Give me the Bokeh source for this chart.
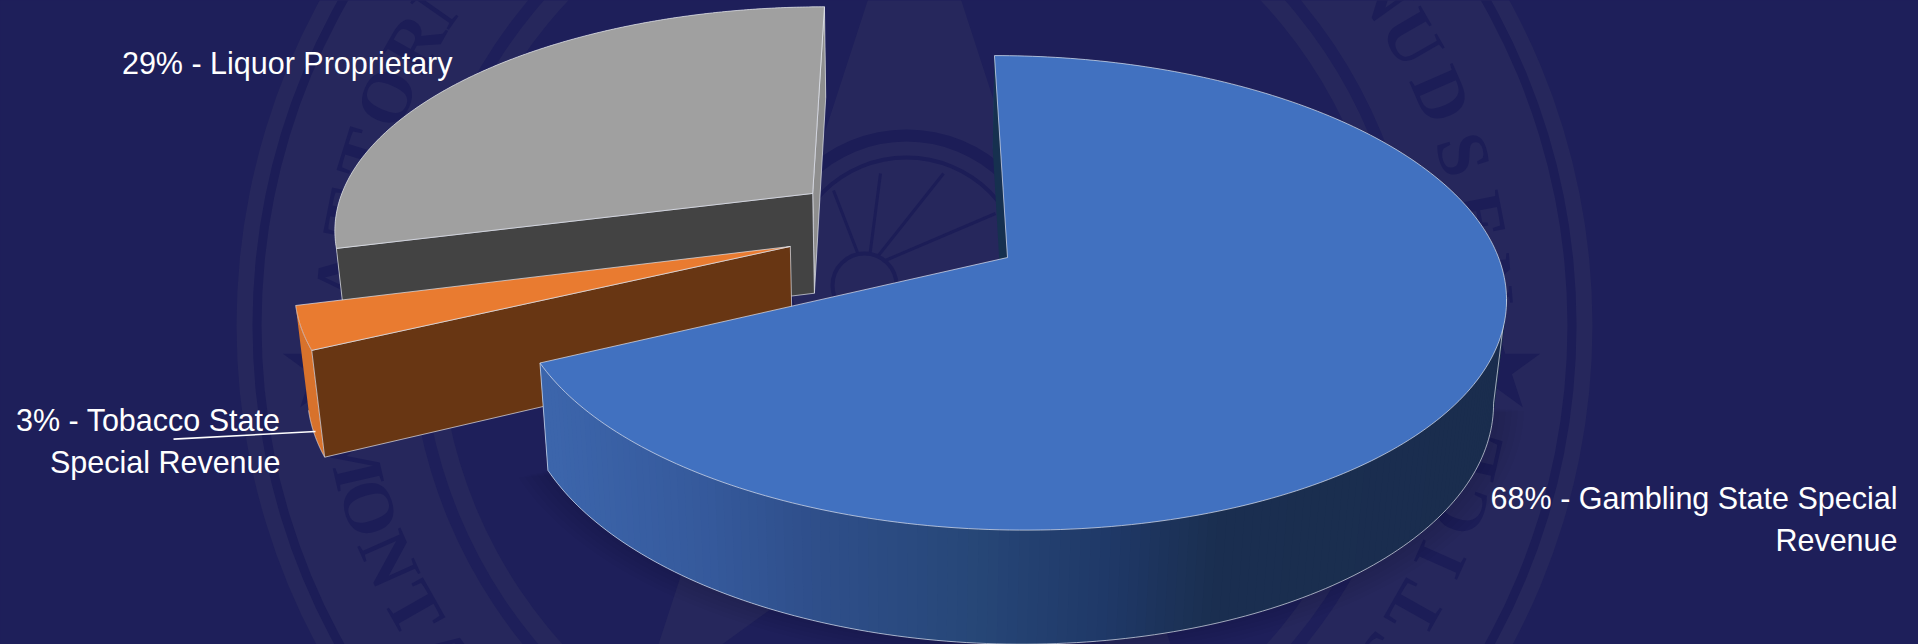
import numpy as np
from bokeh.plotting import figure
from bokeh.embed import file_html
from bokeh.resources import INLINE
from bokeh.models import Range1d, GlobalInlineStyleSheet
from bokeh.core.properties import value

# ---- chart data ----
categories = ["Gambling State Special Revenue", "Tobacco State Special Revenue", "Liquor Proprietary"]
shares = [68, 3, 29]
top_colors = ["#4171C0", "#E97B30", "#A0A0A0"]
cut_colors = ["#16304F", "#683613", "#434343"]
rim_colors = ["#3A63A6", "#D8722C", "#8E8E8E"]
explode_x = [0.0, -0.444, -0.405]
explode_y = [0.0, 0.048, 0.288]
label_lines = [["68% - Gambling State Special", "Revenue"],
               ["3% - Tobacco State", "Special Revenue"],
               ["29% - Liquor Proprietary"]]
label_right = [1897, 280, 452]
label_mid = [[497, 539], [419, 461], [62]]
seal_top = "ATTORNEY GENERAL AUSTIN KNUDSEN"
seal_bottom = "MONTANA DEPARTMENT OF JUSTICE"
BG = "#1E1F5A"
RING = "#26275C"
DARK = "#1C1D57"

# perspective camera, fitted to the picture
CX, CY, A, B, F, C = 1007.0, 257.0, 491.0, -15.0, 232.0, 0.149
VX, VY, T0 = 898.0, 5196.0, 0.0208

def top(X, Y):
    w = 1 + C * Y
    return CX + (A * X + B * Y) / w, CY - F * Y / w

def bot(X, Y):
    x, y = top(X, Y)
    t = T0 / (1 + C * Y)
    return x + (VX - x) * t, y + (VY - y) * t

p = figure(width=1918, height=644, x_range=Range1d(0, 1918), y_range=Range1d(644, 0),
           output_backend="svg", toolbar_location=None, min_border=0,
           background_fill_color=BG, border_fill_color=BG, outline_line_color=None)
p.axis.visible = False
p.grid.visible = False
p.stylesheets = [GlobalInlineStyleSheet(css=f"html,body{{margin:0;background:{BG};overflow:hidden}}")]

# ---- watermark seal ----
SX, SY = 914.0, 325.0

def star(cx, cy, r, inner=0.382):
    ang = np.arange(10) * np.pi / 5
    rad = np.where(np.arange(10) % 2 == 0, r, r * inner)
    return cx + rad * np.sin(ang), cy - rad * np.cos(ang)

sx_, sy_ = star(SX, SY, 469)
p.patch(sx_, sy_, fill_color=RING, line_color=None)
p.annulus(x=[SX], y=[SY], inner_radius=[505], outer_radius=[678], fill_color=RING, line_color=None)
p.annulus(x=[SX], y=[SY], inner_radius=[653], outer_radius=[662], fill_color=DARK, line_color=None)
p.annulus(x=[SX], y=[SY], inner_radius=[475], outer_radius=[493], fill_color=RING, line_color=None)
for cx in (328, 1494):
    a, b = star(cx, 368, 48)
    p.patch(a, b, fill_color=DARK, line_color=None)

LETTER = dict(text_align="center", text_baseline="middle", text_color=DARK,
              text_font=value("Liberation Serif"), text_font_style="bold", text_font_size="72px")

def seal_text(word, idx, deg, sign):
    phi = np.radians(np.interp(np.arange(len(word)), idx, deg))
    xs = SX + 575 * np.sin(phi)
    ys = SY - sign * 575 * np.cos(phi)
    keep = (ys > -15) & (ys < 660) & (np.array(list(word)) != " ")
    p.text(x=xs[keep], y=ys[keep], text=np.array(list(word))[keep].tolist(),
           angle=(-sign * phi)[keep], **LETTER)

seal_text(seal_top, [0, 4, 26, 30], [-85, -60.5, 60, 85.4], 1)
seal_text(seal_bottom, [0, 28], [-77, 77], -1)

# wheel in the middle of the seal
p.annulus(x=[906], y=[275], inner_radius=[134], outer_radius=[146], fill_color=DARK, line_color=None)
p.annulus(x=[906], y=[275], inner_radius=[116], outer_radius=[120], fill_color=DARK, line_color=None)
spoke_x = [[868, 880], [870, 943], [862, 833], [880, 995]]
spoke_y = [[265, 173], [265, 173], [265, 190], [262, 213]]
p.multi_line(spoke_x, spoke_y, line_color=DARK, line_width=3)
p.circle(x=[864], y=[285], radius=32, fill_color=RING, line_color=DARK, line_width=4)

# ---- pie ----
EDGE = dict(line_color="#E8ECF4", line_width=0.7, line_alpha=0.95)
stops_x = [548, 700, 800, 958, 1100, 1210, 1500]
stops_rgb = np.array([[0x3C,0x65,0xAB],[0x35,0x59,0x9B],[0x2F,0x4F,0x8B],[0x27,0x47,0x78],
                      [0x1F,0x39,0x67],[0x1A,0x2E,0x50],[0x1A,0x2D,0x4E]])

def grad(x):
    return "#%02X%02X%02X" % tuple(int(round(np.interp(x, stops_x, stops_rgb[:, k]))) for k in range(3))

ends = np.cumsum(shares) / sum(shares) * 2 * np.pi
starts = np.r_[0, ends[:-1]]

def draw(i):
    s, e = starts[i], ends[i]
    ox, oy = explode_x[i], explode_y[i]
    th = np.linspace(s, e, 241)
    X, Y = ox + np.sin(th), oy + np.cos(th)
    tx, ty = top(X, Y)
    bx, by = bot(X, Y)
    ax, ay = top(ox, oy)
    abx, aby = bot(ox, oy)
    # outer wall
    if i == 0:
        # faint shadow round the foot of the big slice: only its front part
        front = th > np.radians(100)
        for k in range(1, 6):
            g = 1 + 0.012 * k
            sbx, sby = bot(g * np.sin(th[front]), g * np.cos(th[front]))
            p.patch(sbx, sby, fill_color="black", fill_alpha=0.018, line_color=None)
        xs, ys, cols = [], [], []
        for k in range(len(th) - 1):
            m = min(k + 3, len(th) - 1)
            xs.append([tx[k], tx[m], bx[m], bx[k]])
            ys.append([ty[k], ty[m], by[m], by[k]])
            cols.append(grad((tx[k] + tx[m]) / 2))
        p.patches(xs, ys, fill_color=cols, line_color=None)
        n = int(np.argmax(bx))
        p.line(np.r_[tx[n], bx[n:]], np.r_[ty[n], by[n:]], **EDGE)
        p.line([tx[-1], bx[-1]], [ty[-1], by[-1]], **EDGE)
    else:
        p.patch(np.r_[tx, bx[::-1]], np.r_[ty, by[::-1]], fill_color=rim_colors[i], line_color=None)
        p.line(bx, by, **EDGE)
    # cut faces seen from the camera
    if i == 0:
        p.patch([tx[0], ax, abx, bx[0]], [ty[0], ay, aby, by[0]], fill_color=cut_colors[i], line_color=None)
    if i == 1:
        p.patch([tx[0], ax, abx, bx[0]], [ty[0], ay, aby, by[0]], fill_color=cut_colors[i], **EDGE)
    if i == 2:
        p.patch([tx[-1], ax, abx, bx[-1]], [ty[-1], ay, aby, by[-1]], fill_color=rim_colors[i], **EDGE)
        p.patch([tx[0], ax, abx, bx[0]], [ty[0], ay, aby, by[0]], fill_color=cut_colors[i], **EDGE)
    # top face
    p.patch(np.r_[ax, tx], np.r_[ay, ty], fill_color=top_colors[i], **EDGE)

draw(2)
draw(1)
draw(0)

# leader line
p.line([173, 315], [438.6, 431], line_color="white", line_width=1.6)

# labels
for lines, rx, mids in zip(label_lines, label_right, label_mid):
    p.text(x=[rx] * len(lines), y=mids, text=lines, text_align="right", text_baseline="middle",
           text_color="white", text_font=value("Liberation Sans"), text_font_size="30.5px")

open("out.html", "w").write(file_html(p, INLINE))
